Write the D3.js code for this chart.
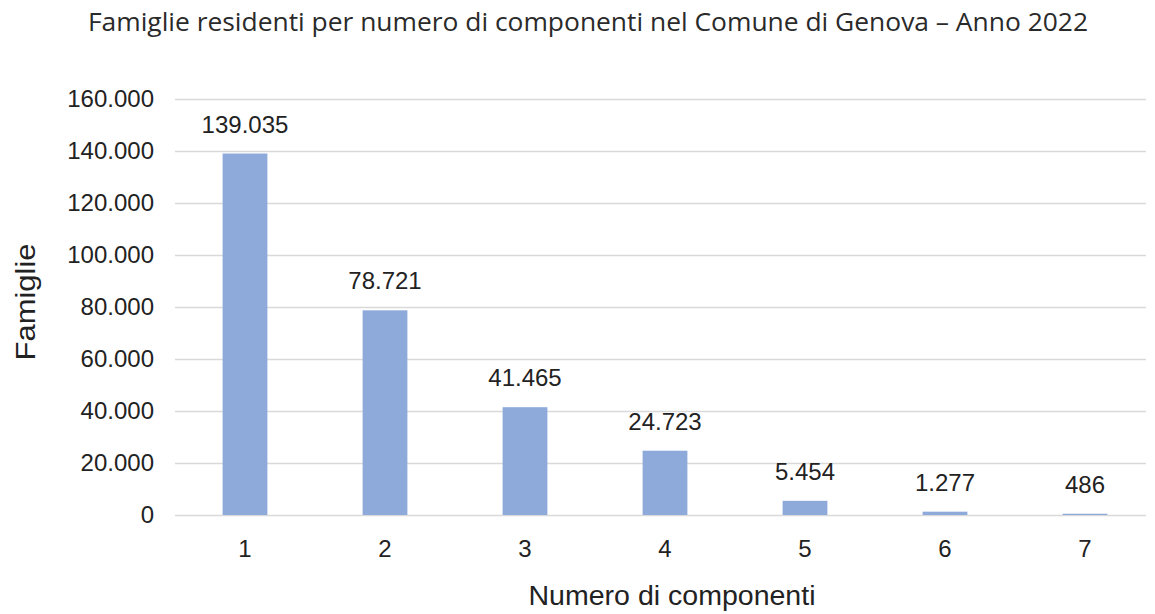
<!DOCTYPE html>
<html>
<head>
<meta charset="utf-8">
<script src="https://cdn.jsdelivr.net/npm/d3@7"></script>
<style>
  html, body { margin: 0; padding: 0; background: #fff; }
  svg { display: block; }
</style>
</head>
<body>
<svg id="chart" width="1155" height="614"></svg>
<script>
// Famiglie residenti per numero di componenti, Genova 2022
const categories = ["1", "2", "3", "4", "5", "6", "7"];
const famiglie = [139035, 78721, 41465, 24723, 5454, 1277, 486];
const yTicks = [0, 20000, 40000, 60000, 80000, 100000, 120000, 140000, 160000];

const titleText = "Famiglie residenti per numero di componenti nel Comune di Genova – Anno 2022";
const xTitle = "Numero di componenti";
const yTitle = "Famiglie";

const svg = d3.select("#chart");
const W = 1155, H = 614;
const margin = { top: 99, right: 0, bottom: 99, left: 175 };
const labelFont = "Liberation Sans, Arial, sans-serif";
const ink = "#222";

const itLocale = d3.formatLocale({ decimal: ",", thousands: ".", grouping: [3], currency: ["€", ""] });
const fmt = itLocale.format(",d");

const x = d3.scaleBand()
  .domain(categories)
  .range([margin.left, W - margin.right])
  .paddingInner(0.68)
  .paddingOuter(0.34);

const y = d3.scaleLinear()
  .domain([0, 160000])
  .range([H - margin.bottom, margin.top]);

const gridRight = 1146;

// horizontal gridlines
svg.append("g")
  .selectAll("line")
  .data(yTicks)
  .join("line")
  .attr("x1", margin.left)
  .attr("x2", gridRight)
  .attr("y1", d => Math.round(y(d)) + 0.5)
  .attr("y2", d => Math.round(y(d)) + 0.5)
  .attr("stroke", "#d9d9d9")
  .attr("stroke-width", 1.5);

// y axis labels
const yAxis = d3.axisLeft(y).tickValues(yTicks).tickFormat(fmt).tickSize(0).tickPadding(0);
const yg = svg.append("g")
  .attr("transform", `translate(154,0)`)
  .call(yAxis);
yg.select(".domain").remove();
yg.selectAll("text")
  .attr("font-family", labelFont)
  .attr("font-size", 24)
  .attr("fill", ink);

// bars
svg.append("g")
  .selectAll("rect")
  .data(famiglie)
  .join("rect")
  .attr("x", (d, i) => x(categories[i]))
  .attr("width", x.bandwidth())
  .attr("y", d => y(d))
  .attr("height", d => y(0) - y(d))
  .attr("fill", "#8eaadb");

// value labels
svg.append("g")
  .selectAll("text")
  .data(famiglie)
  .join("text")
  .attr("x", (d, i) => x(categories[i]) + x.bandwidth() / 2)
  .attr("y", d => y(d) - 21)
  .attr("text-anchor", "middle")
  .attr("font-family", labelFont)
  .attr("font-size", 24)
  .attr("fill", ink)
  .text(d => fmt(d));

// x axis labels
const xAxis = d3.axisBottom(x).tickSize(0).tickPadding(0);
const xg = svg.append("g")
  .attr("transform", `translate(0,${y(0) + 25})`)
  .call(xAxis);
xg.select(".domain").remove();
xg.selectAll("text")
  .attr("font-family", labelFont)
  .attr("font-size", 24)
  .attr("fill", ink);

// axis titles
svg.append("text")
  .attr("x", 672)
  .attr("y", 605)
  .attr("text-anchor", "middle")
  .attr("textLength", 287)
  .attr("lengthAdjust", "spacingAndGlyphs")
  .attr("font-family", labelFont)
  .attr("font-size", 27)
  .attr("fill", ink)
  .text(xTitle);

svg.append("text")
  .attr("transform", "translate(35,302) rotate(-90)")
  .attr("text-anchor", "middle")
  .attr("textLength", 117)
  .attr("lengthAdjust", "spacingAndGlyphs")
  .attr("font-family", labelFont)
  .attr("font-size", 27)
  .attr("fill", ink)
  .text(yTitle);

// chart title
svg.append("text")
  .attr("x", 88)
  .attr("y", 31)
  .attr("textLength", 1000)
  .attr("lengthAdjust", "spacingAndGlyphs")
  .attr("font-family", "Open Sans, Noto Sans, sans-serif")
  .attr("font-size", 25)
  .attr("fill", "#2a2a2a")
  .text(titleText);
</script>
</body>
</html>
